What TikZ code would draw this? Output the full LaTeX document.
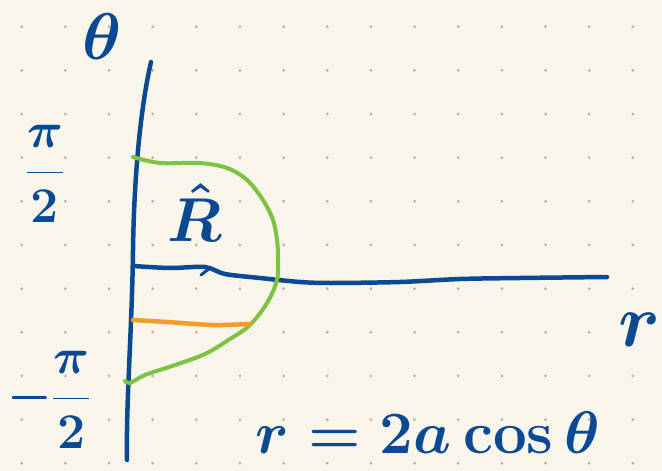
\RequirePackage{fix-cm}
\documentclass[tikz,border=0pt]{standalone}
\usepackage{amsmath}
\definecolor{paper}{HTML}{F8F5EA}
\definecolor{dotc}{HTML}{B2AFA8}
\definecolor{ink}{HTML}{0B4A92}
\definecolor{lime}{HTML}{7DC242}
\definecolor{amber}{HTML}{F39C2A}
\begin{document}
\begin{tikzpicture}[x=1pt,y=-1pt,
  pen/.style={draw=ink, line width=4.5pt, line cap=round, line join=round},
  gpen/.style={draw=lime, line width=4pt, line cap=round, line join=round},
  open/.style={draw=amber, line width=4.5pt, line cap=round, line join=round},
  lab/.style={text=ink, inner sep=0pt}]
\fill[paper] (0,0) rectangle (662,471);
\useasboundingbox (0,0) rectangle (662,471);
% dot grid
\foreach \i in {0,...,14}
  \foreach \j in {0,...,10}
    \fill[dotc] (21.7+\i*43.65, 26.7+\j*43.65) circle (1.5pt);
% named points
\coordinate (ytop) at (151,62);
\coordinate (ymid) at (133,250);
\coordinate (ybot) at (127,460);
\coordinate (xstart) at (133,263);
\coordinate (xend) at (607,277);
% theta axis
\draw[pen] (ytop) .. controls (140,110) and (134,180) .. (ymid)
  .. controls (132,330) and (126,400) .. (ybot);
% r axis
\draw[pen] (xstart) -- (133,266);
\draw[pen] plot[smooth, tension=0.5] coordinates {(133,266) (170,268) (205,267) (225,274) (260,278) (300,282) (331,283) (400,282) (460,279) (520,278) (xend)};
\draw[pen, line width=3pt] (201,275) -- (210,268);
% region boundary
\draw[gpen] plot[smooth, tension=0.55] coordinates {(133,157) (160,163) (200,163) (227,168) (247,180) (263,200) (273,220) (277,240) (278,257) (277,280) (267,303) (250,325) (230,339) (205,354) (175,365) (145,375) (130,383) (125,381)};
% orange strip
\draw[open] plot[smooth, tension=0.5] coordinates {(133,320) (167,322) (213,325) (250,324)};
% labels
\node[lab, font=\fontsize{66}{70}\selectfont\boldmath] (th) at (102,37) {$\theta$};
\node[lab, font=\fontsize{50}{60}\selectfont\boldmath] (pp) at (45,174) {$\dfrac{\pi}{2}$};
\node[lab, font=\fontsize{50}{60}\selectfont\boldmath] (mp) at (49,400) {$-\dfrac{\pi}{2}$};
\node[lab, font=\fontsize{62}{70}\selectfont\boldmath] (rh) at (195,212) {$\hat{R}$};
\node[lab, font=\fontsize{75}{80}\selectfont\boldmath] (rl) at (640,330) {$r$};
\node[lab, font=\fontsize{60}{66}\selectfont\boldmath] (eq) at (428,433) {$r = 2a\cos\theta$};
\end{tikzpicture}
\end{document}
